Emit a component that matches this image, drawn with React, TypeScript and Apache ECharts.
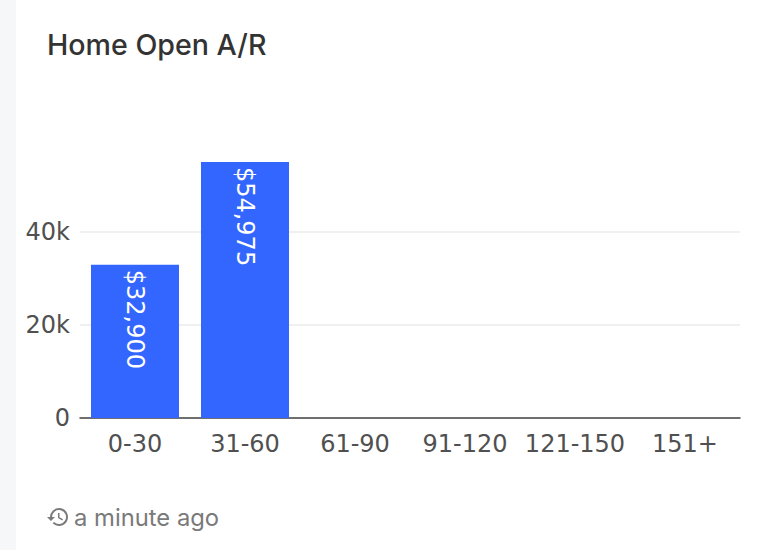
import React, { useEffect, useRef } from "react";
import * as echarts from "echarts";

const titleText = "Home Open A/R";
const footerText = "a minute ago";
const categories = ["0-30", "31-60", "61-90", "91-120", "121-150", "151+"];
const openAR = [32900, 54975, 0, 0, 0, 0];

const historyIcon =
  "M13 3a9 9 0 0 0-9 9H1l3.9 3.9.1.1L9 12H6a7 7 0 1 1 2.05 4.95l-1.42 1.42A9 9 0 1 0 13 3zm-1 5v5l4.25 2.52.77-1.28-3.52-2.09V8H12z";
echarts.graphic.registerShape("historyIcon", echarts.graphic.extendPath(historyIcon, {}) as any);

export default function App() {
  const ref = useRef<HTMLDivElement>(null);
  useEffect(() => {
    document.body.style.margin = "0";
    const chart = echarts.init(ref.current!, null, { renderer: "svg" });
    chart.setOption({
      animation: false,
      backgroundColor: "#ffffff",
      textStyle: { fontFamily: "DejaVu Sans" },
      grid: { left: 80, right: 20, top: 138.5, bottom: 132, containLabel: false },
      xAxis: {
        type: "category",
        data: categories,
        axisTick: { show: false },
        axisLine: { lineStyle: { color: "#444444", width: 1.5 } },
        axisLabel: { color: "#505050", fontSize: 24, margin: 14, interval: 0, fontFamily: "DejaVu Sans" },
      },
      yAxis: {
        type: "value",
        min: 0,
        max: 60000,
        interval: 20000,
        axisLine: { show: false },
        axisTick: { show: false },
        axisLabel: {
          color: "#505050",
          fontSize: 24,
          margin: 10,
          showMaxLabel: false,
          fontFamily: "DejaVu Sans",
          formatter: (v: number) => (v === 0 ? "0" : `${v / 1000}k`),
        },
        splitLine: { showMaxLine: false, lineStyle: { color: "#f0f0f0", width: 2 } },
      },
      series: [
        {
          type: "bar",
          data: openAR,
          barCategoryGap: "20%",
          itemStyle: { color: "#3366ff" },
          label: {
            show: true,
            position: "insideTop",
            distance: 5,
            rotate: -90,
            align: "left",
            verticalAlign: "middle",
            color: "#ffffff",
            fontSize: 24,
            fontFamily: "DejaVu Sans",
            formatter: (p: any) => (p.value ? `$${p.value.toLocaleString("en-US")}` : ""),
          },
        },
      ],
      graphic: [
        { type: "rect", silent: true, z: -1, shape: { x: 0, y: 0, width: 16, height: 550 }, style: { fill: "#f5f7f9" } },
        {
          type: "text",
          x: 47,
          y: 44,
          style: { text: titleText, font: "500 28.6px Inter", fill: "#333333", textVerticalAlign: "middle" },
        },
        {
          type: "historyIcon",
          x: 46,
          y: 505,
          scaleX: 1,
          scaleY: 1,
          style: { fill: "#7a7a7a" },
        },
        {
          type: "text",
          x: 74,
          y: 517,
          style: { text: footerText, font: "23.8px Inter", fill: "#7a7a7a", textVerticalAlign: "middle" },
        },
      ],
    });
    return () => chart.dispose();
  }, []);
  return <div ref={ref} style={{ width: 760, height: 550 }} />;
}
